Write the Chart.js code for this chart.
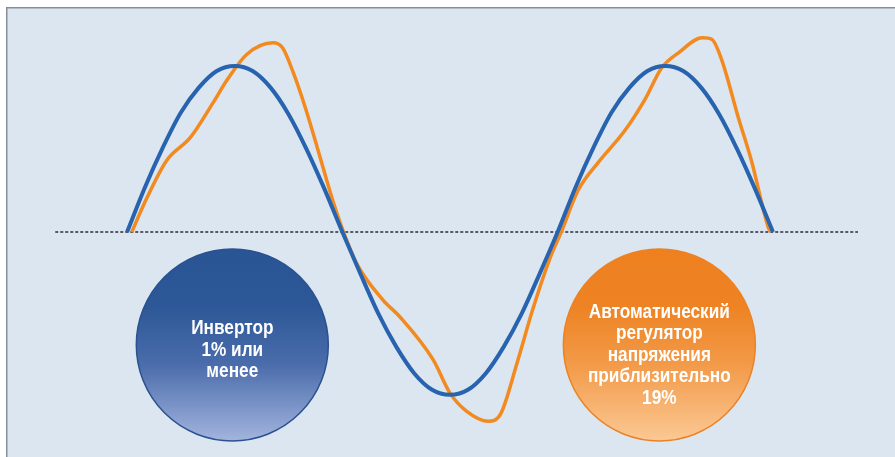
<!DOCTYPE html>
<html>
<head>
<meta charset="utf-8">
<script src="https://cdn.jsdelivr.net/npm/chart.js@4.4.1/dist/chart.umd.min.js"></script>
<style>
  html, body { margin: 0; padding: 0; background: #fff; }
  canvas { display: block; }
</style>
</head>
<body>
<canvas id="waveChart" width="895" height="457"></canvas>
<script>
// фаза в градусах, напряжение в % от амплитуды
const blueDeg = [0, 15, 30, 45, 60, 75, 90, 105, 120, 135, 150, 165, 180,
                 195, 210, 225, 240, 255, 270, 285, 300, 315, 330, 345, 360,
                 375, 390, 405, 420, 435, 450, 465, 480, 495, 510, 525, 540];
const blueVal = [0, 27, 51, 72, 87, 97, 100, 97, 87, 71, 50, 26, 0,
                 -25, -49, -69, -85, -95, -98, -95, -85, -69, -49, -25, 0,
                 27, 51, 72, 87, 97, 100, 97, 87, 71, 50, 26, 0];

const orangeDeg = [4, 13, 33, 53, 72, 84, 100, 122, 130, 139, 149, 159, 172, 181,
                   192, 214, 228, 256, 270, 284, 302, 312, 326, 339, 354, 363,
                   377, 394, 416, 433, 447, 461, 481, 489, 497, 511, 522, 536, 538];
const orangeVal = [0, 15, 43, 57, 78, 92, 107, 114, 111, 96, 75, 51, 19, 0,
                   -19, -41, -51, -77, -97, -108, -114, -110, -79, -47, -15, 0,
                   25, 42, 61, 80, 99, 108, 117, 116, 104, 69, 43, 3, 0];

const zeroDeg = [-60, 611];
const zeroVal = [0, 0];

// подписи в кругах
const circleDeg = [88, 445];
const circleVal = [-68, -68];
const circleLines = [
  ['Инвертор', '1% или', 'менее'],
  ['Автоматический', 'регулятор', 'напряжения', 'приблизительно', '19%']
];
const circleStops = [
  [[0, '#2a5595'], [0.3, '#2d5897'], [0.6, '#4a6cab'], [1, '#a3b4de']],
  [[0, '#ee8020'], [0.3, '#ee8323'], [0.6, '#f29a48'], [1, '#fbc894']]
];
const circleEdge = ['#2a5190', '#ec8223'];
const circleShift = [5, 10];

const toPoints = (xs, ys) => xs.map((x, i) => ({ x: x, y: ys[i] }));

// выбор узкого шрифта
function pickFont() {
  const c = document.createElement('canvas').getContext('2d');
  c.font = 'bold 20px monospace';
  const w1 = c.measureText('Автоматический').width;
  c.font = 'bold 20px "Liberation Sans Narrow", monospace';
  const w2 = c.measureText('Автоматический').width;
  if (w1 !== w2) return { family: '"Liberation Sans Narrow"', scale: 1 };
  return { family: '"Liberation Sans", Arial', scale: 0.82 };
}
const narrow = pickFont();

const panelPlugin = {
  id: 'panel',
  beforeDraw(chart) {
    const c = chart.ctx;
    c.save();
    c.fillStyle = '#ffffff';
    c.fillRect(0, 0, chart.width, chart.height);
    c.fillStyle = '#dce6f0';
    c.fillRect(6, 7, chart.width - 6, chart.height - 7);
    c.fillStyle = '#878d96';
    c.fillRect(6, 7, chart.width - 6, 1.5);
    c.fillRect(6, 7, 1.5, chart.height - 7);
    c.restore();
  }
};

const circlePlugin = {
  id: 'circles',
  afterDatasetsDraw(chart) {
    const c = chart.ctx;
    const xs = chart.scales.x, ys = chart.scales.y;
    const r = 96;
    circleDeg.forEach((d, i) => {
      const cx = xs.getPixelForValue(d);
      const cy = ys.getPixelForValue(circleVal[i]);
      c.save();
      const g = c.createLinearGradient(0, cy - r, 0, cy + r);
      circleStops[i].forEach(s => g.addColorStop(s[0], s[1]));
      c.beginPath();
      c.arc(cx, cy, r, 0, Math.PI * 2);
      c.fillStyle = g;
      c.fill();
      c.lineWidth = 1.5;
      c.strokeStyle = circleEdge[i];
      c.stroke();

      const lines = circleLines[i];
      const lh = 21.5;
      const top = cy + circleShift[i] - (lines.length - 1) * lh / 2;
      c.fillStyle = '#ffffff';
      c.font = 'bold 21px ' + narrow.family;
      c.textAlign = 'center';
      c.textBaseline = 'middle';
      lines.forEach((t, k) => {
        c.save();
        c.translate(cx, top + k * lh);
        c.scale(narrow.scale, 1);
        c.fillText(t, 0, 0);
        c.restore();
      });
      c.restore();
    });
  }
};

new Chart(document.getElementById('waveChart'), {
  type: 'line',
  data: {
    datasets: [
      {
        label: 'Инвертор',
        data: toPoints(blueDeg, blueVal),
        borderColor: '#2763ae',
        borderWidth: 4,
        pointRadius: 0,
        cubicInterpolationMode: 'monotone',
        order: 1
      },
      {
        label: 'Автоматический регулятор напряжения',
        data: toPoints(orangeDeg, orangeVal),
        borderColor: '#f28a1f',
        borderWidth: 3.5,
        pointRadius: 0,
        cubicInterpolationMode: 'monotone',
        order: 2
      },
      {
        label: 'ноль',
        data: toPoints(zeroDeg, zeroVal),
        borderColor: '#2b2d35',
        borderWidth: 1.5,
        borderDash: [3, 2],
        pointRadius: 0,
        order: 3
      }
    ]
  },
  options: {
    responsive: false,
    animation: false,
    layout: { padding: 0 },
    plugins: {
      legend: { display: false },
      tooltip: { enabled: false }
    },
    scales: {
      x: { type: 'linear', display: false, min: -106.2, max: 642.0 },
      y: { type: 'linear', display: false, min: -135.5, max: 139.8 }
    }
  },
  plugins: [panelPlugin, circlePlugin]
});
</script>
</body>
</html>
